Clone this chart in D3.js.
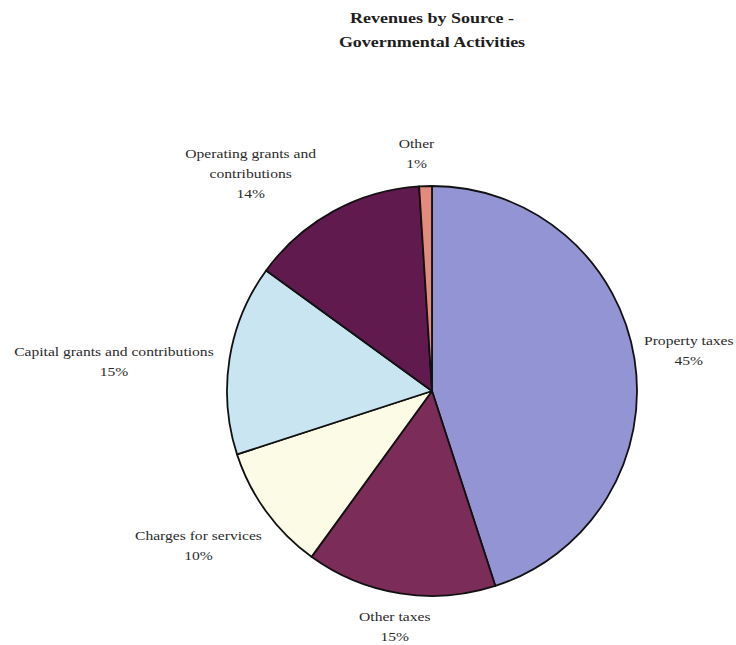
<!DOCTYPE html>
<html>
<head>
<meta charset="utf-8">
<script src="https://cdn.jsdelivr.net/npm/d3@7"></script>
<style>
  html, body { margin: 0; padding: 0; background: #fff; }
  svg { display: block; }
  text { font-family: "Liberation Serif", "Times New Roman", serif; }
</style>
</head>
<body>
<svg id="chart" width="736" height="645"></svg>
<script>
// Revenue sources, clockwise from 12 o'clock
const categories = [
  "Property taxes",
  "Other taxes",
  "Charges for services",
  "Capital grants and contributions",
  "Operating grants and contributions",
  "Other"
];
const shares = [45, 15, 10, 15, 14, 1];
// Label lines as printed beside each slice
const labelLines = [
  ["Property taxes"],
  ["Other taxes"],
  ["Charges for services"],
  ["Capital grants and contributions"],
  ["Operating grants and", "contributions"],
  ["Other"]
];
const colors = ["#9294d4", "#7b2c59", "#fcfce6", "#c8e5f1", "#611a4e", "#e38b7a"];

const titleLines = ["Revenues by Source -", "Governmental Activities"];

// Layout
const cx = 432, cy = 391, radius = 205;
const labelRadius = [260, 238, 280, 320, 283, 238];
const labelNudge = [[0, 0], [0, 0], [-7, -10], [-2, 21], [-45, 30], [-8, 0]];
const lineGap = 20;

const svg = d3.select("#chart");

// Title
const title = svg.append("g").attr("transform", `translate(${cx},0)`);
title.selectAll("text")
  .data(titleLines)
  .join("text")
  .attr("transform", (d, i) => `translate(0,${23 + i * 24}) scale(1.2,1)`)
  .attr("text-anchor", "middle")
  .attr("font-size", 15)
  .attr("font-weight", "bold")
  .attr("fill", "#1e1e1e")
  .text(d => d);

const data = categories.map((c, i) => ({ name: c, value: shares[i], lines: labelLines[i], color: colors[i], idx: i }));

const pie = d3.pie().sort(null).value(d => d.value).startAngle(0).endAngle(2 * Math.PI);
const arcs = pie(data);

const arc = d3.arc().innerRadius(0).outerRadius(radius);

const g = svg.append("g").attr("transform", `translate(${cx},${cy})`);

g.selectAll("path.slice")
  .data(arcs)
  .join("path")
  .attr("class", "slice")
  .attr("d", arc)
  .attr("fill", d => d.data.color)
  .attr("stroke", "#111")
  .attr("stroke-width", 1.8)
  .attr("stroke-linejoin", "round");

// Labels: name lines followed by the percentage
const labels = g.selectAll("g.label")
  .data(arcs)
  .join("g")
  .attr("class", "label")
  .attr("transform", d => {
    const i = d.data.idx;
    const a = (d.startAngle + d.endAngle) / 2;
    const r = labelRadius[i];
    const x = Math.sin(a) * r + labelNudge[i][0];
    const y = -Math.cos(a) * r + labelNudge[i][1];
    return `translate(${x},${y})`;
  });

labels.each(function(d) {
  const lines = d.data.lines.concat([d3.format("d")(d.data.value) + "%"]);
  const n = lines.length;
  d3.select(this).selectAll("text")
    .data(lines)
    .join("text")
    .attr("transform", (t, j) => `translate(0,${(j - (n - 1) / 2) * lineGap + 4.5}) scale(1.2,1)`)
    .attr("text-anchor", "middle")
    .attr("font-size", 13)
    .attr("fill", "#2a2a2a")
    .text(t => t);
});
</script>
</body>
</html>
